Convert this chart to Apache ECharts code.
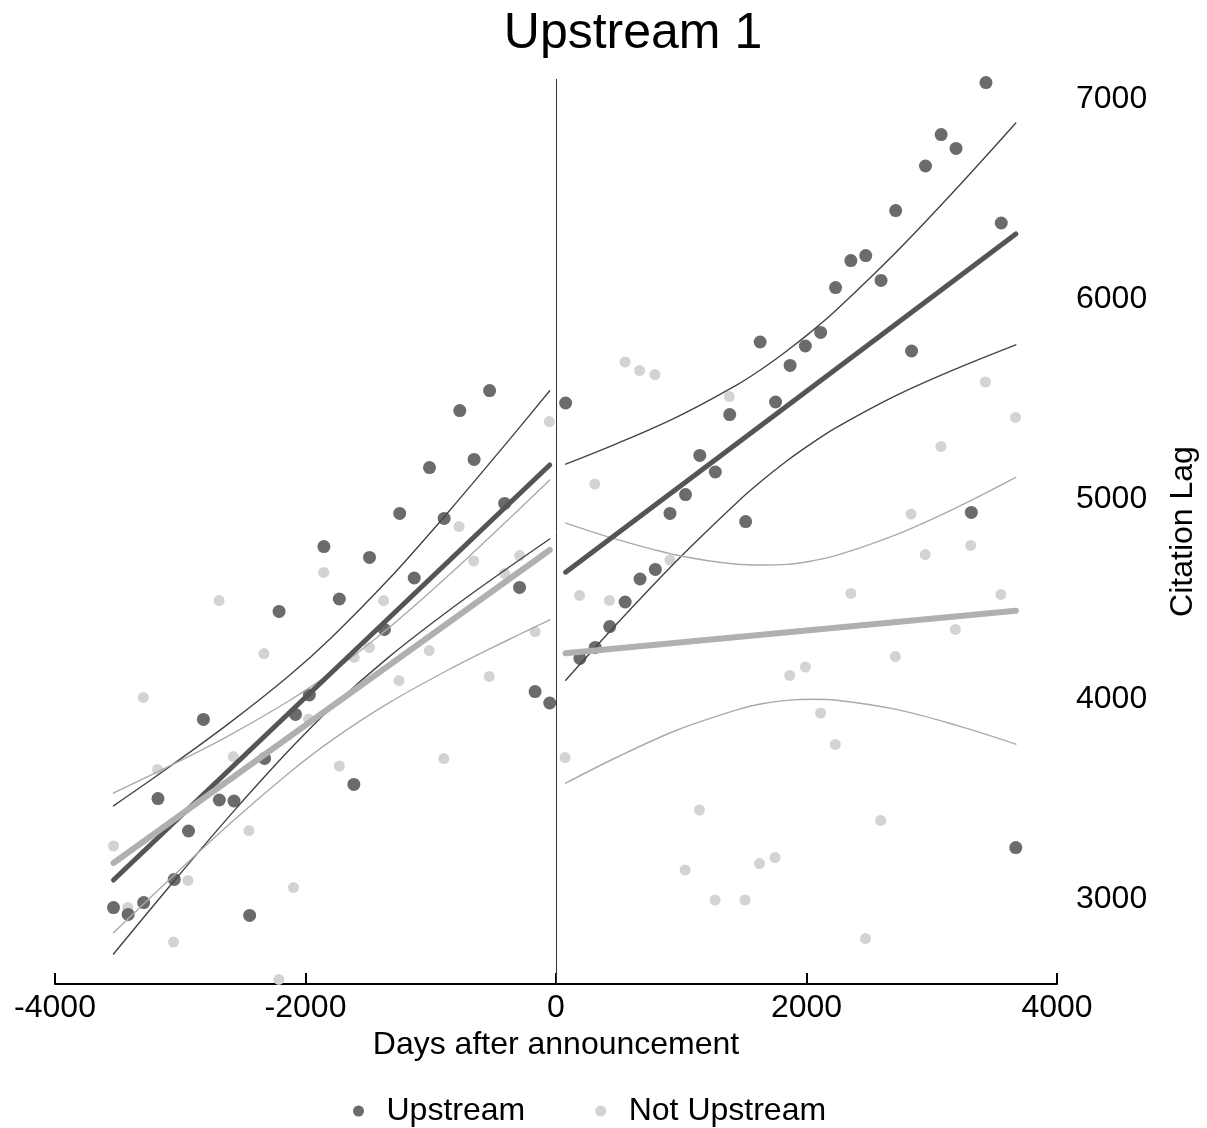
<!DOCTYPE html>
<html>
<head>
<meta charset="utf-8">
<script src="https://cdn.jsdelivr.net/npm/echarts@6/dist/echarts.min.js"></script>
<style>
  html, body { margin: 0; padding: 0; background: #fff; }
  #chart { width: 1207px; height: 1128px; }
</style>
</head>
<body>
<div id="chart"></div>
<script>
// scatter points, days after announcement vs citation lag
const upX = [-3533, -3416, -3292, -3178, -3048, -2934, -2815, -2688, -2571, -2446, -2327, -2211, -2080, -1969, -1853,
  -1730, -1614, -1489, -1370, -1248, -1132, -1010, -893, -768, -654, -530, -410, -291, -167, -50,
  77, 191, 313, 429, 552, 671, 793, 910, 1034, 1148, 1272, 1387, 1514, 1630, 1753, 1869, 1991, 2113,
  2232, 2354, 2473, 2595, 2712, 2839, 2950, 3075, 3194, 3316, 3433, 3555, 3671];
const upY = [2957, 2923, 2982, 3502, 3098, 3340, 3898, 3495, 3490, 2918, 3703, 4438, 3923, 4020, 4762,
  4500, 3573, 4708, 4348, 4928, 4605, 5157, 4903, 5442, 5198, 5542, 4978, 4558, 4037, 3980,
  5480, 4203, 4258, 4362, 4485, 4600, 4648, 4928, 5022, 5218, 5135, 5422, 4887, 5785, 5485, 5668, 5765, 5833,
  6057, 6192, 6217, 6093, 6442, 5740, 6665, 6822, 6753, 4933, 7082, 6380, 3257];

const notX = [-3533, -3419, -3295, -3181, -3054, -2939, -2690, -2577, -2452, -2332, -2213, -2096, -1975, -1855,
  -1730, -1611, -1489, -1376, -1253, -1012, -896, -774, -657, -533, -410, -291, -167, -53,
  72, 188, 310, 427, 552, 668, 790, 910, 1031, 1145, 1270, 1384, 1509, 1625, 1749, 1866, 1991, 2113,
  2230, 2354, 2471, 2592, 2709, 2834, 2948, 3073, 3189, 3311, 3428, 3552, 3669];
const notY = [3265, 2958, 4008, 3648, 2785, 3093, 4492, 3712, 3342, 4227, 2598, 3057, 3900, 4633,
  3665, 4208, 4257, 4492, 4092, 4242, 3702, 4862, 4690, 4113, 4628, 4717, 4337, 5387,
  3707, 4518, 5075, 4493, 5685, 5642, 5622, 4695, 3145, 3445, 2995, 5512, 2995, 3177, 3207, 4118, 4160, 3930,
  3773, 4528, 2802, 3393, 4212, 4925, 4722, 5262, 4348, 4768, 5585, 4523, 5408];

// fitted lines (before / after announcement)
const fitXPre = [-3533, -50];
const fitXPost = [77, 3671];
const upFitPre = [3095, 5170];
const upFitPost = [4634, 6325];
const notFitPre = [3180, 4745];
const notFitPost = [4229, 4441];

// confidence bands
const ciXPre = [-3533, -3088, -2611, -2134, -1792, -1338, -861, -384, -50];
const upHiPre = [3466, 3660, 3878, 4115, 4308, 4597, 4934, 5288, 5541];
const upLoPre = [2725, 3061, 3412, 3742, 3958, 4208, 4440, 4655, 4800];
const notHiPre = [3530, 3664, 3817, 3990, 4133, 4354, 4616, 4895, 5095];
const notLoPre = [2831, 3096, 3372, 3629, 3793, 3979, 4145, 4295, 4396];

const ciXPost = [77, 490, 968, 1445, 1643, 1842, 2041, 2240, 2717, 3194, 3671];
const upHiPost = [5174, 5278, 5411, 5571, 5650, 5740, 5838, 5946, 6235, 6550, 6880];
const upLoPost = [4094, 4379, 4694, 4983, 5091, 5190, 5278, 5358, 5518, 5651, 5771];
const notHiPost = [4879, 4797, 4719, 4674, 4670, 4673, 4690, 4718, 4822, 4956, 5108];
const notLoPost = [3579, 3710, 3845, 3946, 3976, 3993, 3999, 3994, 3948, 3869, 3774];

const yTicks = [3000, 4000, 5000, 6000, 7000];

const DARK_PT = "#6b6b6b", LIGHT_PT = "#d3d3d3";
const DARK_LN = "#555555", LIGHT_LN = "#b0b0b0";
const FONT = "Liberation Sans";

const zip = (xs, ys) => xs.map((x, i) => [x, ys[i]]);

function lineSeries(name, xs, ys, color, width, smooth) {
  return {
    name, type: "line", data: zip(xs, ys), showSymbol: false, symbol: "none",
    smooth: smooth ? 0.35 : false, silent: true, z: width > 3 ? 4 : 3,
    lineStyle: { color, width, cap: "round" }
  };
}

const chart = echarts.init(document.getElementById("chart"));
chart.setOption({
  backgroundColor: "#fff",
  animation: false,
  textStyle: { fontFamily: FONT },
  title: {
    text: "Upstream 1", left: 628, top: 4, textAlign: "center",
    textStyle: { fontSize: 50, fontWeight: "normal", color: "#000", fontFamily: FONT }
  },
  legend: {
    data: ["Upstream", "Not Upstream"],
    left: 348, top: 1090, icon: "circle",
    itemWidth: 24, itemHeight: 11, itemGap: 70,
    textStyle: { fontSize: 32, color: "#000", fontFamily: FONT, padding: [0, 0, 0, 11] }
  },
  grid: { left: 55, right: 146, top: 79, bottom: 144 },
  xAxis: {
    type: "value", min: -4000, max: 4000, interval: 2000,
    name: "Days after announcement", nameLocation: "middle", nameGap: 42,
    nameTextStyle: { fontSize: 32, color: "#000", fontFamily: FONT },
    axisLine: { show: true, onZero: false, lineStyle: { color: "#000", width: 2 } },
    axisTick: { show: true, inside: true, length: 11, lineStyle: { color: "#000", width: 2 } },
    axisLabel: { fontSize: 32, color: "#000", margin: 8, formatter: (v) => String(v) },
    splitLine: { show: false }
  },
  yAxis: {
    type: "value", position: "right", min: 2575, max: 7100,
    name: "Citation Lag", nameLocation: "middle", nameGap: 110, nameRotate: 90,
    nameTextStyle: { fontSize: 32, color: "#000", fontFamily: FONT },
    axisLine: { show: false },
    axisTick: { show: false },
    axisLabel: { fontSize: 32, color: "#000", margin: 19, customValues: yTicks, formatter: (v) => String(v) },
    splitLine: { show: false }
  },
  series: [
    {
      name: "Upstream", type: "scatter", data: zip(upX, upY), symbolSize: 13,
      itemStyle: { color: DARK_PT, opacity: 1 }, z: 2
    },
    {
      name: "Not Upstream", type: "scatter", data: zip(notX, notY), symbolSize: 11,
      itemStyle: { color: LIGHT_PT, opacity: 1 }, z: 1
    },
    lineSeries("upHiPre", ciXPre, upHiPre, "#444", 1.4, true),
    lineSeries("upLoPre", ciXPre, upLoPre, "#444", 1.4, true),
    lineSeries("notHiPre", ciXPre, notHiPre, "#aaaaaa", 1.4, true),
    lineSeries("notLoPre", ciXPre, notLoPre, "#aaaaaa", 1.4, true),
    lineSeries("upHiPost", ciXPost, upHiPost, "#444", 1.4, true),
    lineSeries("upLoPost", ciXPost, upLoPost, "#444", 1.4, true),
    lineSeries("notHiPost", ciXPost, notHiPost, "#aaaaaa", 1.4, true),
    lineSeries("notLoPost", ciXPost, notLoPost, "#aaaaaa", 1.4, true),
    lineSeries("upFitPre", fitXPre, upFitPre, DARK_LN, 5, false),
    lineSeries("notFitPre", fitXPre, notFitPre, LIGHT_LN, 6, false),
    lineSeries("upFitPost", fitXPost, upFitPost, DARK_LN, 5, false),
    Object.assign(lineSeries("notFitPost", fitXPost, notFitPost, LIGHT_LN, 6, false), {
      markLine: {
        silent: true, symbol: "none", label: { show: false },
        lineStyle: { color: "#333", width: 1, type: "solid" },
        data: [{ xAxis: 0 }]
      }
    })
  ]
});
</script>
</body>
</html>
